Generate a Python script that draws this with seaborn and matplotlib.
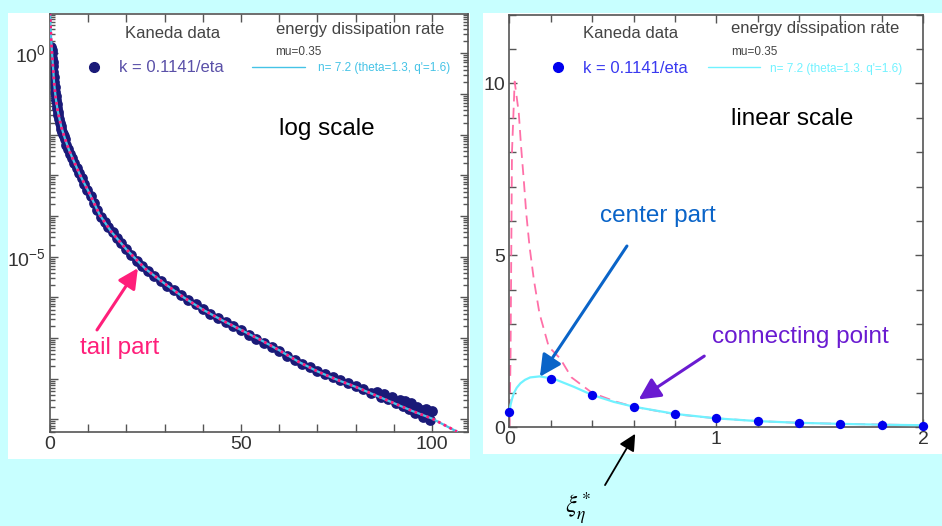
import numpy as np
import matplotlib
matplotlib.use('Agg')
import matplotlib.pyplot as plt
from matplotlib.patches import Rectangle
from matplotlib.lines import Line2D
from matplotlib.ticker import MultipleLocator, LogLocator, NullFormatter, FuncFormatter
import seaborn as sns

sns.set_style('white')
plt.rcParams['font.family'] = ['Liberation Sans', 'DejaVu Sans']

# ---- data ----
# left panel: Kaneda data (x, log10 y)
kaneda_x = [0.0, 0.3, 0.4, 0.5, 0.6, 0.7, 0.8, 0.9, 1.0, 1.1, 1.2, 1.3, 1.45, 1.6, 1.75, 1.9,
            2.05, 2.2, 2.4, 2.6, 2.8, 3.0, 3.2, 3.4, 3.6, 3.8, 4.3, 4.8, 5.3, 5.8, 6.4, 7.0,
            7.6, 8.3, 9.0, 9.8, 10.6, 11.5, 12.4, 13.3, 14.3, 15.3, 16.4, 17.5, 18.7, 20.0,
            21.3, 22.7, 24.2, 25.7, 27.3, 29.0, 30.7, 32.5, 34.3, 36.2, 38.1, 40.0, 42.0,
            44.0, 46.0, 48.0, 50.0, 52.0, 54.0, 56.0, 58.0, 60.0, 62.0, 64.0, 66.0, 68.0,
            70.0, 72.0, 74.0, 76.0, 78.0, 80.0, 82.0, 84.0, 85.5, 86.5, 87.5, 88.5, 89.5,
            90.5, 91.5, 92.5, 93.0, 94.0, 94.5, 95.5, 96.0, 97.0, 97.5, 98.5, 99.0, 99.5,
            100.0]
kaneda_logy = [-0.34, 0.16, 0.08, 0.0, -0.1, -0.2, -0.32, -0.45, -0.57, -0.7, -0.82, -0.95,
               -1.05, -1.15, -1.25, -1.35, -1.44, -1.52, -1.61, -1.7, -1.78, -1.85, -1.92,
               -1.98, -2.04, -2.1, -2.25, -2.36, -2.48, -2.57, -2.7, -2.82, -2.95, -3.07,
               -3.2, -3.35, -3.5, -3.67, -3.85, -4.02, -4.15, -4.27, -4.4, -4.53, -4.67,
               -4.82, -4.96, -5.1, -5.23, -5.35, -5.47, -5.6, -5.72, -5.83, -5.95, -6.06,
               -6.17, -6.28, -6.4, -6.5, -6.6, -6.7, -6.8, -6.92, -7.02, -7.12, -7.22, -7.32,
               -7.44, -7.55, -7.64, -7.72, -7.8, -7.88, -7.96, -8.03, -8.1, -8.17, -8.26,
               -8.34, -8.32, -8.45, -8.38, -8.5, -8.44, -8.6, -8.52, -8.68, -8.55, -8.75,
               -8.6, -8.85, -8.7, -8.78, -8.95, -8.75, -8.9, -9.02, -8.8]

# left panel: fitted curve (x, log10 y)
fit_x = [0.0, 0.15, 0.3, 0.5, 0.8, 1.1, 1.5, 2.0, 2.5, 3.0, 4.0, 5.0, 6.0, 8.0, 10, 13, 16,
         20, 25, 30, 35, 40, 45, 50, 55, 60, 65, 70, 75, 80, 85, 90, 95, 100, 106.5]
fit_logy = [1.0, 0.65, 0.35, 0.05, -0.35, -0.75, -1.1, -1.4, -1.62, -1.82, -2.12, -2.38,
            -2.6, -3.02, -3.38, -3.97, -4.38, -4.82, -5.3, -5.66, -6.0, -6.3, -6.56, -6.8,
            -7.04, -7.3, -7.58, -7.82, -8.02, -8.2, -8.4, -8.6, -8.8, -8.98, -9.3]

# right panel: Kaneda data, linear
dots_x = [0.0, 0.2, 0.4, 0.6, 0.8, 1.0, 1.2, 1.4, 1.6, 1.8, 2.0]
dots_y = [0.45, 1.40, 0.94, 0.60, 0.39, 0.28, 0.18, 0.135, 0.107, 0.078, 0.05]

# right panel: center part (cyan)
center_x = [0.0, 0.005, 0.012, 0.021, 0.035, 0.053, 0.075, 0.10, 0.146, 0.214, 0.31, 0.40,
            0.504, 0.60, 0.80, 1.0, 1.2, 1.4, 1.6, 1.8, 2.0]
center_y = [0.45, 0.65, 0.82, 0.99, 1.15, 1.28, 1.38, 1.45, 1.48, 1.41, 1.18, 0.94, 0.74,
            0.60, 0.39, 0.26, 0.18, 0.13, 0.10, 0.075, 0.06]

# right panel: tail part (pink dashed)
tail_x = [0.0, 0.005, 0.012, 0.025, 0.045, 0.056, 0.069, 0.081, 0.097, 0.118, 0.145, 0.19,
          0.245, 0.3, 0.4, 0.512, 0.6, 0.8, 1.0, 1.2, 1.4, 1.6, 1.8, 2.0]
tail_y = [0.0, 2.0, 8.0, 10.05, 9.13, 8.16, 7.19, 6.22, 5.25, 4.28, 3.31, 2.34, 2.0, 1.45,
          1.0, 0.75, 0.6, 0.38, 0.26, 0.18, 0.13, 0.1, 0.08, 0.06]

log_tick_labels = {0: r'$\mathdefault{10^{0}}$', -5: r'$\mathdefault{10^{-5}}$'}

# ---- colours ----
BG = '#C8FFFF'
NAVY = '#1A1A78'
SLATE = '#5A50A8'
CYAN_L = '#45C3E6'
PINK_L = '#FF1F7A'
BLUE = '#0000EE'
CYAN_R = '#70F2FF'
PINK_R = '#FF70A8'
GREY = '#444444'

fig = plt.figure(figsize=(9.42, 5.26), dpi=100, facecolor=BG)
fig.add_artist(Rectangle((0.0085, 0.1274), 0.4904, 0.848, transform=fig.transFigure,
                         facecolor='white', edgecolor='none', zorder=-1))
fig.add_artist(Rectangle((0.5127, 0.1369), 0.4873, 0.8384, transform=fig.transFigure,
                         facecolor='white', edgecolor='none', zorder=-1))

ax1 = fig.add_axes([0.05308, 0.17871, 0.44374, 0.79468])
ax2 = fig.add_axes([0.54087, 0.18764, 0.43896, 0.78479])


def style_axes(ax):
    for sp in ax.spines.values():
        sp.set_color('#555555')
        sp.set_linewidth(1.2)
    ax.tick_params(which='both', direction='in', bottom=True, left=True, top=True,
                   right=True, color='#555555', width=1.0, labelsize=14,
                   labelcolor='#333333', pad=3)
    ax.tick_params(which='major', length=6)
    ax.tick_params(which='minor', length=3.5)
    ax.set_xlabel('')
    ax.set_ylabel('')


# ---- left panel: log scale ----
sns.scatterplot(x=kaneda_x, y=np.power(10.0, kaneda_logy), ax=ax1, color=NAVY, s=60,
                linewidth=0, zorder=2)
sns.lineplot(x=fit_x, y=np.power(10.0, fit_logy), ax=ax1, color=CYAN_L, lw=1.6,
             estimator=None, sort=False, zorder=3)
sns.lineplot(x=fit_x, y=np.power(10.0, fit_logy), ax=ax1, color=PINK_L, lw=2.0,
             linestyle=(0, (1.0, 1.3)), estimator=None, sort=False, zorder=4)
ax1.set_yscale('log')
ax1.set_xlim(0, 109.4)
ax1.set_ylim(10 ** -9.31, 10 ** 0.97)
ax1.xaxis.set_major_locator(MultipleLocator(50))
ax1.xaxis.set_minor_locator(MultipleLocator(10))
ax1.yaxis.set_major_locator(LogLocator(base=10, numticks=30))
ax1.yaxis.set_minor_locator(LogLocator(base=10, subs=np.arange(2, 10), numticks=30))
ax1.yaxis.set_minor_formatter(NullFormatter())
ax1.yaxis.set_major_formatter(FuncFormatter(
    lambda v, p: log_tick_labels.get(int(round(np.log10(v))), '')))
style_axes(ax1)
ax1.tick_params(axis='x', which='minor', length=6)

ax1.text(0.294, 0.943, 'Kaneda data', transform=ax1.transAxes, ha='center',
         va='baseline', fontsize=12, color=GREY)
ax1.text(0.742, 0.953, 'energy dissipation rate', transform=ax1.transAxes, ha='center',
         va='baseline', fontsize=12, color=GREY)
ax1.text(0.538, 0.902, 'mu=0.35', transform=ax1.transAxes, ha='left',
         va='baseline', fontsize=8.5, color=GREY)
leg = ax1.legend(handles=[Line2D([], [], marker='o', ls='none', color=NAVY, markersize=7)],
                 labels=['k = 0.1141/eta'], loc='center left', bbox_to_anchor=(0.086, 0.871),
                 frameon=False, fontsize=12, handlelength=1.0, handletextpad=1.0,
                 borderpad=0, borderaxespad=0, labelcolor=SLATE)
ax1.add_artist(leg)
ax1.legend(handles=[Line2D([], [], color=CYAN_L, lw=1.0)],
           labels=["n= 7.2 (theta=1.3, q'=1.6)"], loc='center left',
           bbox_to_anchor=(0.483, 0.871), frameon=False, fontsize=8.5, handlelength=4.5,
           handletextpad=1.1, borderpad=0, borderaxespad=0, labelcolor=CYAN_L)

ax1.text(72.5, 10 ** -2.0, 'log scale', ha='center', va='baseline', fontsize=17.5,
         color='black')
ax1.text(18.1, 10 ** -7.39, 'tail part', ha='center', va='baseline', fontsize=17.5,
         color=PINK_L)
ax1.annotate('', xy=(23.0, 10 ** -5.28), xytext=(12.3, 10 ** -6.8),
             arrowprops=dict(arrowstyle='-|>,head_length=0.6,head_width=0.3', color=PINK_L,
                             lw=2.2, mutation_scale=20, shrinkA=0, shrinkB=0))

# ---- right panel: linear scale ----
sns.lineplot(x=tail_x, y=tail_y, ax=ax2, color=PINK_R, lw=1.3, linestyle=(0, (6, 3.5)),
             estimator=None, sort=False, zorder=2)
sns.lineplot(x=center_x, y=center_y, ax=ax2, color=CYAN_R, lw=1.6, estimator=None,
             sort=False, zorder=3)
sns.scatterplot(x=dots_x, y=dots_y, ax=ax2, color=BLUE, s=45, linewidth=0, zorder=4,
                clip_on=False)
ax2.set_xlim(0, 2)
ax2.set_ylim(0, 12)
ax2.xaxis.set_major_locator(MultipleLocator(1))
ax2.xaxis.set_minor_locator(MultipleLocator(0.2))
ax2.yaxis.set_major_locator(MultipleLocator(5))
ax2.yaxis.set_minor_locator(MultipleLocator(1))
style_axes(ax2)
ax2.tick_params(which='minor', length=5)

ax2.text(0.292, 0.942, 'Kaneda data', transform=ax2.transAxes, ha='center',
         va='baseline', fontsize=12, color=GREY)
ax2.text(0.739, 0.956, 'energy dissipation rate', transform=ax2.transAxes, ha='center',
         va='baseline', fontsize=12, color=GREY)
ax2.text(0.536, 0.902, 'mu=0.35', transform=ax2.transAxes, ha='left',
         va='baseline', fontsize=8.5, color=GREY)
leg = ax2.legend(handles=[Line2D([], [], marker='o', ls='none', color=BLUE, markersize=7)],
                 labels=['k = 0.1141/eta'], loc='center left', bbox_to_anchor=(0.0966, 0.869),
                 frameon=False, fontsize=12, handlelength=1.0, handletextpad=1.0,
                 borderpad=0, borderaxespad=0, labelcolor='#3A3AF0')
ax2.add_artist(leg)
ax2.legend(handles=[Line2D([], [], color=CYAN_R, lw=1.0)],
           labels=["n= 7.2 (theta=1.3. q'=1.6)"], loc='center left',
           bbox_to_anchor=(0.48, 0.869), frameon=False, fontsize=8.5, handlelength=4.4,
           handletextpad=0.85, borderpad=0, borderaxespad=0, labelcolor=CYAN_R)

ax2.text(1.367, 8.79, 'linear scale', ha='center', va='baseline', fontsize=17.5,
         color='black')
ax2.text(0.717, 5.97, 'center part', ha='center', va='baseline', fontsize=17.5,
         color='#0A64C8')
ax2.annotate('', xy=(0.147, 1.47), xytext=(0.568, 5.27),
             arrowprops=dict(arrowstyle='-|>,head_length=0.65,head_width=0.33',
                             color='#0A64C8', lw=2.2, mutation_scale=20, shrinkA=0, shrinkB=0))
ax2.text(1.406, 2.45, 'connecting point', ha='center', va='baseline', fontsize=17.5,
         color='#6A1BD1')
ax2.annotate('', xy=(0.625, 0.81), xytext=(0.942, 2.07),
             arrowprops=dict(arrowstyle='-|>,head_length=0.65,head_width=0.33',
                             color='#6A1BD1', lw=2.2, mutation_scale=20, shrinkA=0, shrinkB=0))
ax2.annotate('', xy=(0.608, -0.19), xytext=(0.462, -1.68), annotation_clip=False,
             arrowprops=dict(arrowstyle='-|>,head_length=0.5,head_width=0.25',
                             color='black', lw=1.3, mutation_scale=20, shrinkA=0, shrinkB=0))

fig.text(0.6, 0.024, r'$\xi_\eta^*$', ha='left', va='baseline', fontsize=18,
         math_fontfamily='stix', color='black')

fig.savefig('out.png', dpi=100, facecolor=BG)
